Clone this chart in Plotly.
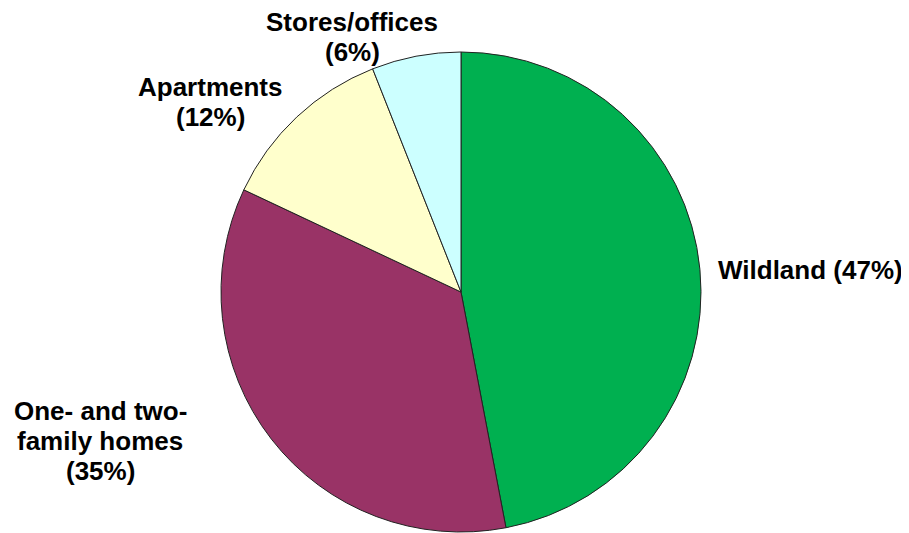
import plotly.graph_objects as go

labels = ["Wildland", "One- and two-family homes", "Apartments", "Stores/offices"]
values = [47, 35, 12, 6]
colors = ["#00B050", "#993366", "#FFFFCC", "#CCFFFF"]
label_lines = [["Wildland (47%)"], ["One- and two-", "family homes", "(35%)"], ["Apartments", "(12%)"], ["Stores/offices", "(6%)"]]
# centre of the label block, in page pixels
label_pos = [(810, 270), (100, 441), (210, 102), (352, 37)]

W, H = 909, 533
OFF = 8  # page body margin
LINE = 30
cx, cy, r = 461 - OFF, 292 - OFF, 240
fig = go.Figure(go.Pie(
    labels=labels, values=values, sort=False, direction="clockwise", rotation=0,
    marker=dict(colors=colors, line=dict(color="#222222", width=1)),
    textinfo="none", hoverinfo="label+percent", showlegend=False,
    domain=dict(x=[(cx - r) / W, (cx + r) / W], y=[(H - (cy + r)) / H, (H - (cy - r)) / H]),
))
for lines, (px, py) in zip(label_lines, label_pos):
    n = len(lines)
    for i, line in enumerate(lines):
        ly = py + (i - (n - 1) / 2) * LINE
        fig.add_annotation(x=(px - OFF) / W, y=1 - (ly - OFF) / H, xref="paper", yref="paper",
                           text="<b>" + line + "</b>", showarrow=False,
                           xanchor="center", yanchor="middle",
                           font=dict(family="Liberation Sans, Arial", size=26, color="black"))
fig.update_layout(width=W, height=H, margin=dict(l=0, r=0, t=0, b=0),
                  paper_bgcolor="white", plot_bgcolor="white",
                  font=dict(family="Liberation Sans, Arial"))
fig.write_html("out.html")
